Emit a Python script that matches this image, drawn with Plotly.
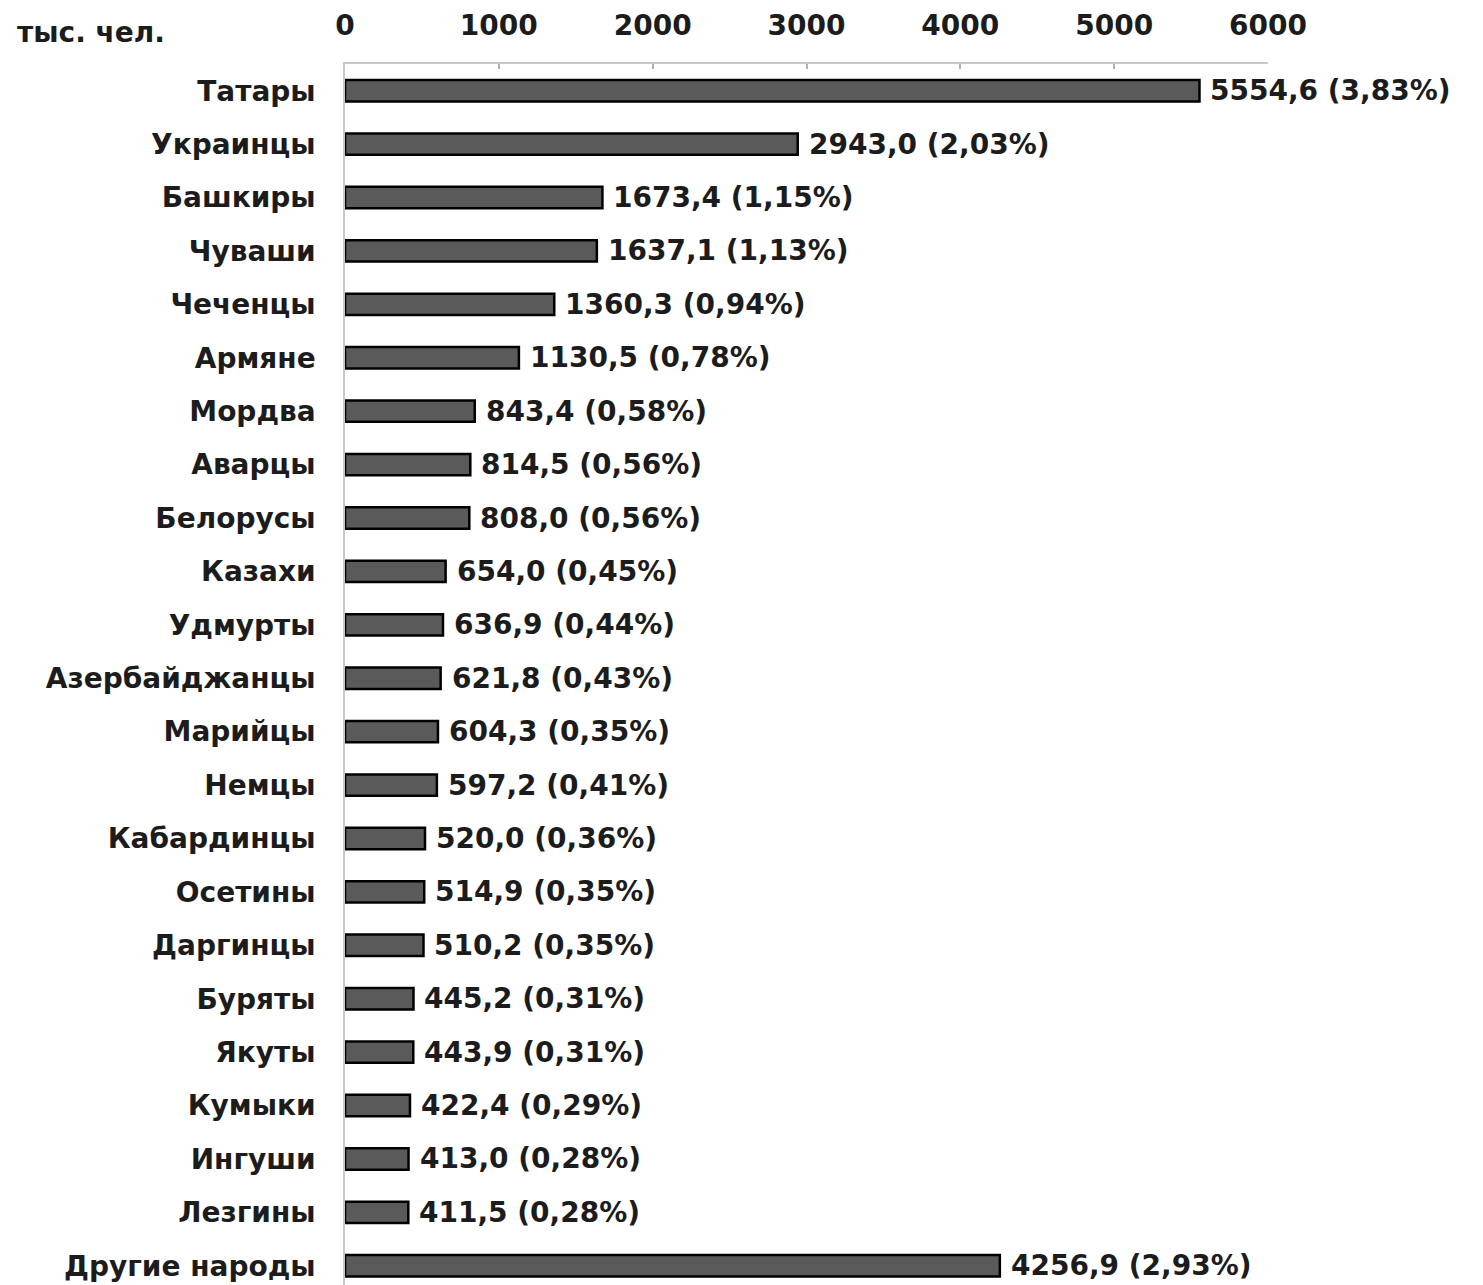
import plotly.graph_objects as go

peoples = ["Татары", "Украинцы", "Башкиры", "Чуваши", "Чеченцы", "Армяне", "Мордва",
           "Аварцы", "Белорусы", "Казахи", "Удмурты", "Азербайджанцы", "Марийцы", "Немцы",
           "Кабардинцы", "Осетины", "Даргинцы", "Буряты", "Якуты", "Кумыки", "Ингуши",
           "Лезгины", "Другие народы"]
values = [5554.6, 2943.0, 1673.4, 1637.1, 1360.3, 1130.5, 843.4,
          814.5, 808.0, 654.0, 636.9, 621.8, 604.3, 597.2,
          520.0, 514.9, 510.2, 445.2, 443.9, 422.4, 413.0,
          411.5, 4256.9]
percents = ["3,83%", "2,03%", "1,15%", "1,13%", "0,94%", "0,78%", "0,58%",
            "0,56%", "0,56%", "0,45%", "0,44%", "0,43%", "0,35%", "0,41%",
            "0,36%", "0,35%", "0,35%", "0,31%", "0,31%", "0,29%", "0,28%",
            "0,28%", "2,93%"]
x_ticks = [0, 1000, 2000, 3000, 4000, 5000, 6000]
unit_label = "тыс. чел."

FONT = "DejaVu Sans"
FS = 28
TXT = "#1c1c1c"

# page body has an 8px margin; compensate
W, H = 1475, 1277
ML, MR, MT, MB = 337, 215, 56, 0
PW, PH = W - ML - MR, H - MT - MB

fig = go.Figure()
fig.add_trace(go.Bar(
    y=peoples, x=values, orientation="h",
    marker=dict(color="#5a5a5a", line=dict(color="#000000", width=2.5)),
    width=0.40, showlegend=False, hoverinfo="skip",
))

for p, v, pc in zip(peoples, values, percents):
    fig.add_annotation(
        x=v, y=p, xref="x", yref="y", xanchor="left", yanchor="middle",
        xshift=9, showarrow=False,
        text=f"{v:.1f}".replace(".", ",") + f" ({pc})",
        font=dict(family=FONT, size=FS, color=TXT, weight="bold"),
    )

fig.add_annotation(
    x=(7 - ML) / PW, y=1 + (MT - 25) / PH, xref="paper", yref="paper",
    showarrow=False, text=unit_label, xanchor="left", yanchor="middle",
    font=dict(family=FONT, size=FS, color=TXT, weight="bold"),
)

fig.update_layout(
    width=W, height=H,
    margin=dict(l=ML, r=MR, t=MT, b=MB, autoexpand=False),
    paper_bgcolor="white", plot_bgcolor="white",
)

fig.update_xaxes(
    side="top", range=[0, 6000], tickvals=x_ticks, automargin=False,
    showgrid=False, zeroline=False,
    showline=True, linecolor="#c8c8c8", linewidth=1.5,
    ticks="inside", ticklen=5, tickcolor="#b0b0b0", tickwidth=1.5,
    ticklabelstandoff=16,
    tickfont=dict(family=FONT, size=FS, color=TXT, weight="bold"),
)
fig.update_yaxes(
    type="category", categoryorder="array", categoryarray=peoples,
    range=[22.36, -0.5], automargin=False,
    showgrid=False, zeroline=False,
    showline=True, linecolor="#c8c8c8", linewidth=1.5,
    ticks="", ticklabelstandoff=22,
    tickfont=dict(family=FONT, size=FS, color=TXT, weight="bold"),
)

fig.write_html("out.html")
